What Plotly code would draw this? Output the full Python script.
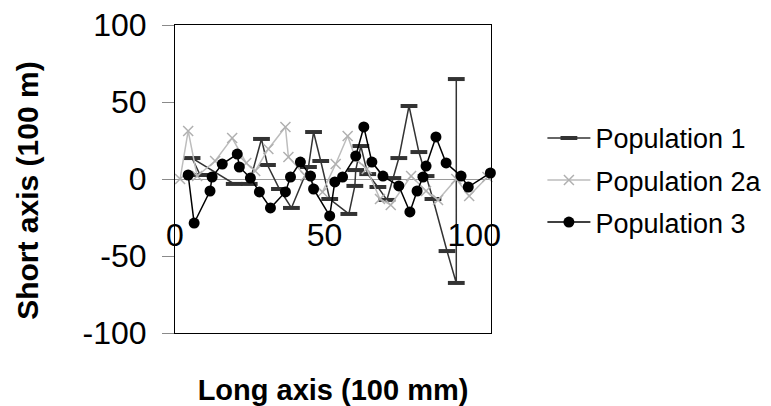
import plotly.graph_objects as go

# ---- data ----
pop1_x = [8.4, 5.7, 19.8, 24.8, 28.9, 30.9, 34.9, 38.9, 44.6, 46.3, 48.7, 51.7, 58.1, 60.1,
          60.4, 62.1, 64.4, 67.8, 70.8, 72.8, 74.8, 78.2, 81.5, 83.9, 86.2, 90.9, 94.0, 94.0]
pop1_y = [2.6, 13.6, -3.2, -3.2, 26.0, 9.1, -6.5, -18.8, 7.8, 30.5, 11.7, -13.0, -22.7, -4.5,
          5.8, 21.4, 3.2, -5.2, -13.6, 0.6, 13.6, 47.4, 17.5, 1.9, -13.0, -46.8, -67.5, 64.9]

pop2a_x = [1.7, 4.4, 7.4, 13.4, 19.1, 23.8, 26.8, 31.2, 36.9, 37.9, 43.6, 49.3, 53.7, 57.7,
           60.4, 64.1, 68.5, 72.1, 78.9, 83.9, 87.9, 94.0, 98.3, 104.4]
pop2a_y = [0, 31.2, 1.9, 11.7, 26.6, 10.4, 5.2, 19.5, 33.8, 14.3, 1.9, -8.4, 9.7, 27.9,
           13.0, 6.5, -13.0, -16.9, 1.9, -7.8, -13.6, 0, -11.0, 1.3]

pop3_x = [4.4, 6.4, 11.7, 12.4, 15.8, 20.8, 21.5, 25.2, 28.2, 31.9, 36.9, 38.6, 41.9, 45.3,
          46.3, 51.7, 53.4, 56.0, 60.4, 63.1, 65.8, 69.5, 74.8, 78.5, 80.9, 82.9, 83.9, 87.2,
          90.6, 95.6, 98.0, 105.4]
pop3_y = [2.6, -28.6, -7.8, 1.3, 9.7, 16.2, 7.8, 0.6, -8.4, -18.8, -8.4, 1.3, 11.0, 1.9,
          -6.5, -24.0, -1.9, 1.3, 14.9, 33.8, 11.0, 1.9, -4.5, -21.4, -7.8, 1.3, 8.4, 27.3,
          10.4, 1.9, -5.2, 3.9]

series_names = ["Population 1", "Population 2a", "Population 3"]
x_ticks = [0, 50, 100]
y_ticks = [-100, -50, 0, 50, 100]
x_range = [0, 105.6]
y_range = [-100, 100]
x_title = "Long axis (100 mm)"
y_title = "Short axis (100 m)"

FONT = "Liberation Sans, Arial, sans-serif"

fig = go.Figure()
fig.add_trace(go.Scatter(
    x=pop1_x, y=pop1_y, name=series_names[0], mode="lines+markers",
    line=dict(color="#333333", width=1.5),
    marker=dict(symbol="line-ew", size=12, line=dict(color="#333333", width=4)),
    legendgroup="a", cliponaxis=False))
fig.add_trace(go.Scatter(
    x=pop2a_x, y=pop2a_y, name=series_names[1], mode="lines+markers",
    line=dict(color="#bdbdbd", width=1.5),
    marker=dict(symbol="x-thin", size=10, line=dict(color="#b0b0b0", width=1.5)),
    legendgroup="b", cliponaxis=False))
fig.add_trace(go.Scatter(
    x=pop3_x, y=pop3_y, name=series_names[2], mode="lines+markers",
    xaxis="x2", yaxis="y",
    line=dict(color="#000000", width=1.5),
    marker=dict(symbol="circle", size=11, color="#000000"),
    legendgroup="c", cliponaxis=False))

fig.update_layout(
    width=763, height=398,
    margin=dict(l=167, r=280, t=17, b=73),
    paper_bgcolor="white", plot_bgcolor="white",
    font=dict(family=FONT, color="#000000"),
    showlegend=True,
    legend=dict(
        xref="container", yref="container", x=0.7004, y=0.734,
        xanchor="left", yanchor="top",
        font=dict(size=27, family=FONT, color="#000000"),
        traceorder="grouped", tracegroupgap=4,
        bgcolor="rgba(0,0,0,0)", itemwidth=43,
    ),
    xaxis=dict(
        range=x_range, anchor="y", showline=True, mirror=True, automargin=False,
        linecolor="#000000", linewidth=1, showgrid=False, zeroline=False,
        ticks="", showticklabels=False,
        title=dict(text="<b>" + x_title + "</b>", font=dict(size=29, family=FONT),
                   standoff=48),
    ),
    xaxis2=dict(
        range=x_range, overlaying="x", anchor="free", position=0.5, automargin=False,
        showline=False, showgrid=False, zeroline=False, ticks="",
        tickvals=x_ticks, ticktext=[str(v) for v in x_ticks],
        tickfont=dict(size=32, family=FONT), ticklabelstandoff=34,
        ticklabeloverflow="allow", side="bottom",
    ),
    yaxis=dict(
        range=y_range, showline=True, mirror=True, linecolor="#000000", linewidth=1,
        automargin=False,
        showgrid=False, zeroline=True, zerolinecolor="#9a9a9a", zerolinewidth=1,
        ticks="outside", ticklen=12, tickcolor="#8a8a8a", tickwidth=1,
        tickvals=y_ticks, ticktext=[str(v) for v in y_ticks],
        tickfont=dict(size=32, family=FONT), ticklabelstandoff=9,
        ticklabeloverflow="allow",
    ),
    annotations=[dict(
        text="<b>" + y_title + "</b>", textangle=-90, showarrow=False,
        xref="paper", yref="paper", x=-0.469, y=0.461,
        xanchor="center", yanchor="middle",
        font=dict(size=30, family=FONT, color="#000000"),
    )],
)

fig.write_html("out.html")
